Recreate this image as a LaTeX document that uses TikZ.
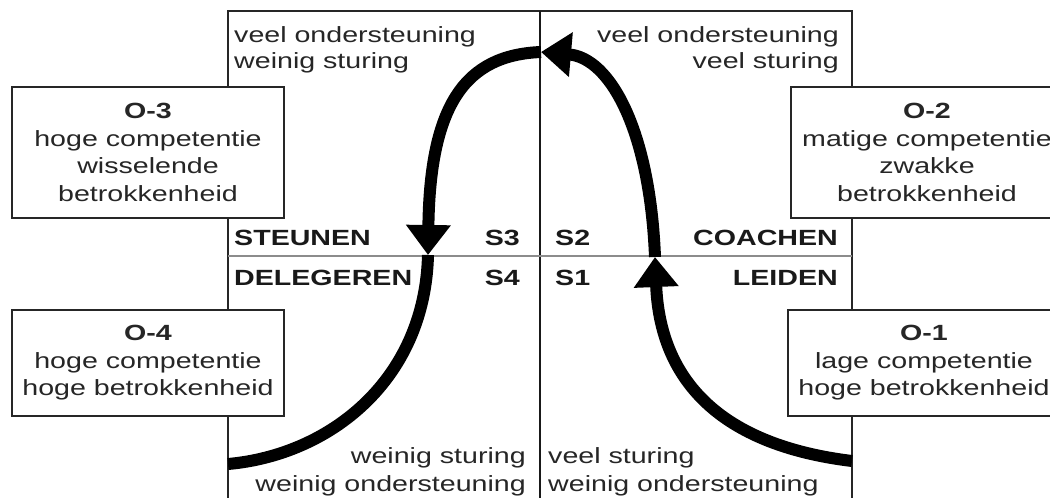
\documentclass[tikz,border=0pt]{standalone}
\usepackage{fontspec}
\setmainfont{Liberation Sans}[FakeStretch=1.3]
\usetikzlibrary{arrows.meta}
\begin{document}
\begin{tikzpicture}[x=1pt,y=-1pt,
  txt/.style={font=\fontsize{22}{27}\selectfont, inner sep=0pt, text=black!85},
  btxt/.style={font=\fontsize{22}{27}\selectfont\bfseries, inner sep=0pt, text=black!90},
  obox/.style={draw=black!85, line width=1.5pt, fill=white, minimum width=272pt, minimum height=131pt, align=center, inner sep=0pt, font=\fontsize{22}{27.5}\selectfont, text=black!85},
  flow/.style={line width=12pt, -{Triangle[width=43pt,length=30pt]}},
  band/.style={line width=12pt},
]
\useasboundingbox (0,0) rectangle (1050,498);
\clip (0,0) rectangle (1050,498);

% frame
\draw[line width=2.5pt, black!85] (228,520) -- (228,11) -- (852,11) -- (852,520);
\draw[line width=1.5pt, black!90] (540,11) -- (540,520);
\draw[line width=2pt, black!45] (228,256) -- (852,256);

% quadrant texts
\node[txt, anchor=base west] (tl1) at (234,42) {veel ondersteuning};
\node[txt, anchor=base west] (tl2) at (234,68) {weinig sturing};
\node[txt, anchor=base east] (tr1) at (839,42) {veel ondersteuning};
\node[txt, anchor=base east] (tr2) at (839,68) {veel sturing};
\node[txt, anchor=base east] (bl1) at (526,463) {weinig sturing};
\node[txt, anchor=base east] (bl2) at (526,491) {weinig ondersteuning};
\node[txt, anchor=base west] (br1) at (548,463) {veel sturing};
\node[txt, anchor=base west] (br2) at (548,491) {weinig ondersteuning};

% style labels
\node[btxt, anchor=base west] (steunen) at (234,245) {STEUNEN};
\node[btxt, anchor=base east] (s3) at (520,245) {S3};
\node[btxt, anchor=base west] (s2) at (555,245) {S2};
\node[btxt, anchor=base east] (coachen) at (838,245) {COACHEN};
\node[btxt, anchor=base west] (delegeren) at (234,285) {DELEGEREN};
\node[btxt, anchor=base east] (s4) at (520,285) {S4};
\node[btxt, anchor=base west] (s1) at (555,285) {S1};
\node[btxt, anchor=base east] (leiden) at (838,285) {LEIDEN};

% development boxes
\node[obox] (o3) at (148,152.5) {\textbf{O-3}\\hoge competentie\\wisselende\\betrokkenheid};
\node[obox, minimum height=106pt] (o4) at (148,363) {\textbf{O-4}\\hoge competentie\\hoge betrokkenheid};
\node[obox] (o2) at (927,152.5) {\textbf{O-2}\\matige competentie\\zwakke\\betrokkenheid};
\node[obox, minimum height=106pt] (o1) at (924,363) {\textbf{O-1}\\lage competentie\\hoge betrokkenheid};

% curve
\coordinate (botR) at (852,461);
\coordinate (cR) at (655,257);
\coordinate (top) at (541,52);
\coordinate (cL) at (428,255);
\coordinate (botL) at (228,464);

\draw[flow] (botR) .. controls (720,445) and (660,380) .. (cR);
\draw[flow] (cR) .. controls (650,130) and (610,58) .. (top);
\draw[flow] (top) .. controls (465,55) and (430,105) .. (cL);
\draw[band] (cL) .. controls (425,380) and (330,455) .. (botL);
\end{tikzpicture}
\end{document}
